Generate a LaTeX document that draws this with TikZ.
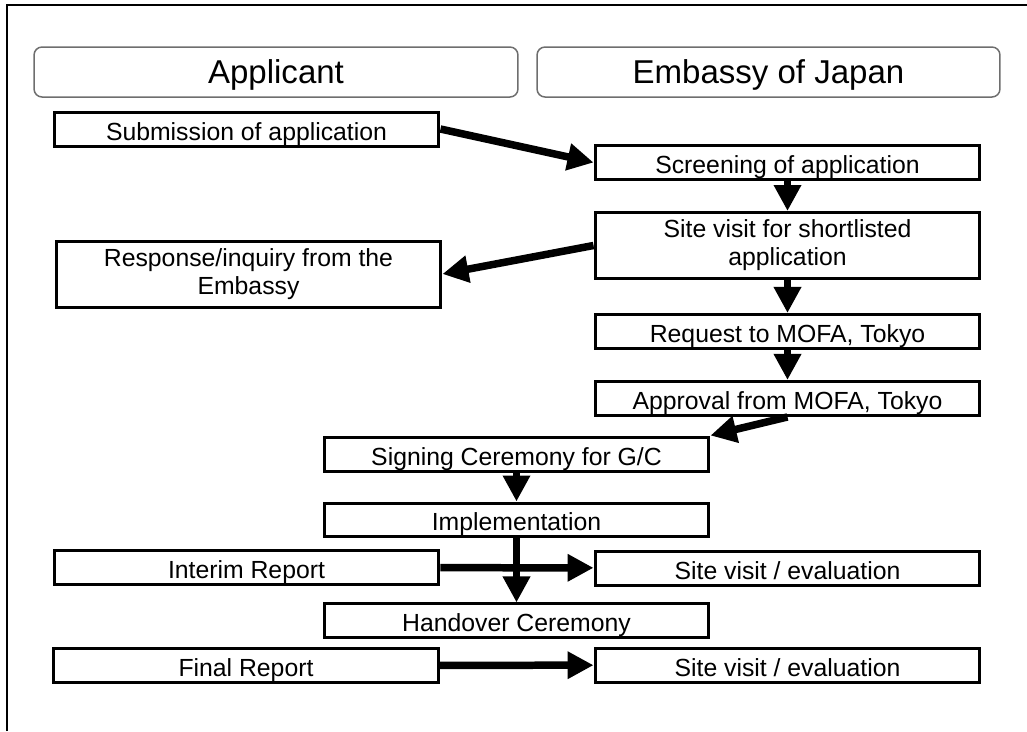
\documentclass[tikz,border=0pt]{standalone}
\usepackage{fontspec}
\setmainfont{Liberation Sans}
\usepackage{tikz}
\usetikzlibrary{arrows.meta,positioning}
\usepackage{xcolor}
\definecolor{headgray}{RGB}{110,110,110}
\newcommand{\boxfont}{\fontsize{14.1}{15.9}\selectfont}
\newcommand{\headfont}{\fontsize{18.8}{22}\selectfont}

\begin{document}
\begin{tikzpicture}[
  x=0.02cm, y=-0.02cm,
  every node/.style={font=\boxfont, align=center},
  head/.style={draw=headgray, line width=0.03cm, rounded corners=0.16cm, minimum height=1.0cm, inner sep=0pt, font=\headfont, text height=0.56cm, text depth=0.12cm},
  box/.style={draw, line width=0.06cm, minimum width=7.7cm, minimum height=0.68cm, inner sep=0pt, text height=0.52cm, text depth=0.08cm},
  tallbox/.style={box, minimum height=1.32cm, text height=, text depth=},
  arrow/.style={-{Triangle[length=0.52cm, width=0.52cm]}, line width=0.15cm}
]
  \useasboundingbox (0,0) rectangle (1027,731);
  \draw [line width=0.04cm] (7,731) -- (7,5) -- (1027,5);

  % Nodes
  \node (applicant) [head, minimum width=9.68cm] at (276,72) {Applicant};
  \node (embassy) [head, minimum width=9.26cm] at (768.5,72) {Embassy of Japan};

  \node (submit) [box] at (246.5,129) {Submission of application};
  \node (screen) [box] at (787.5,162.5) {Screening of application};
  \node (shortlist) [tallbox, below=0.6cm of screen] {Site visit for shortlisted\\application};
  \node (response) [tallbox] at (248.5,274) {Response/inquiry from the\\Embassy};
  \node (request) [box, below=0.66cm of shortlist] {Request to MOFA, Tokyo};
  \node (approval) [box, below=0.6cm of request] {Approval from MOFA, Tokyo};

  \node (signing) [box] at (516.5,454) {Signing Ceremony for G/C};
  \node (implement) [box, below=0.58cm of signing] {Implementation};
  \node (handover) [box, below=1.28cm of implement] {Handover Ceremony};

  \node (interim) [box] at (246.5,567.5) {Interim Report};
  \node (visit1) [box] at (787.5,568) {Site visit / evaluation};
  \node (final) [box] at (246,665.5) {Final Report};
  \node (visit2) [box] at (787.5,665) {Site visit / evaluation};

  % Paths
  \draw [arrow] (submit.east) -- (screen.west);
  \draw [arrow] (screen) -- (shortlist);
  \draw [arrow] (shortlist.west) -- (response.east);
  \draw [arrow] (shortlist) -- (request);
  \draw [arrow] (request) -- (approval);
  \draw [arrow] (approval.south) -- (signing.north east);
  \draw [arrow] (signing) -- (implement);
  \draw [arrow] (implement) -- (handover);
  \draw [arrow] (interim) -- (visit1);
  \draw [arrow] (final) -- (visit2);
\end{tikzpicture}
\end{document}
